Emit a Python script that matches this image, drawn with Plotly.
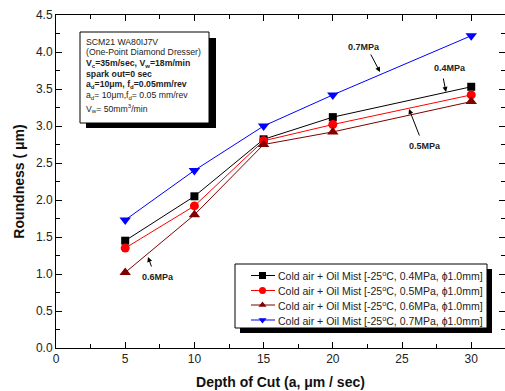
import plotly.graph_objects as go

depth = [5, 10, 15, 20, 30]
r04 = [1.45, 2.05, 2.82, 3.12, 3.53]
r05 = [1.35, 1.92, 2.80, 3.02, 3.42]
r06 = [1.02, 1.80, 2.75, 2.92, 3.33]
r07 = [1.73, 2.40, 3.00, 3.42, 4.22]

names = ["Cold air + Oil Mist [-25<sup>o</sup>C, 0.4MPa, ϕ1.0mm]",
         "Cold air + Oil Mist [-25<sup>o</sup>C, 0.5MPa, ϕ1.0mm]",
         "Cold air + Oil Mist [-25<sup>o</sup>C, 0.6MPa, ϕ1.0mm]",
         "Cold air + Oil Mist [-25<sup>o</sup>C, 0.7MPa, ϕ1.0mm]"]
series = [r04, r05, r06, r07]
colors = ["#000000", "#ff0000", "#800000", "#0000ff"]
symbols = ["square", "circle", "triangle-up", "triangle-down"]
msizes = [8, 9, 10, 10]

W, H = 505, 391
L, R, T, B = 56, 0, 15, 43
FONT = "Arial, Liberation Sans, sans-serif"

def px(x):
    return (x - L) / (W - L - R)

def py(y):
    return (H - B - y) / (H - T - B)

fig = go.Figure()
for n, s, c, m, ms in zip(names, series, colors, symbols, msizes):
    fig.add_trace(go.Scatter(x=depth, y=s, name=n, mode="lines+markers",
                             line=dict(color=c, width=1), showlegend=False,
                             marker=dict(color=c, symbol=m, size=ms)))

# text box with shadow
fig.add_shape(type="rect", xref="paper", yref="paper", x0=px(86), x1=px(216), y0=py(128), y1=py(38),
              fillcolor="black", line=dict(width=0), layer="below")
fig.add_shape(type="rect", xref="paper", yref="paper", x0=px(80), x1=px(209), y0=py(123), y1=py(32),
              fillcolor="white", line=dict(color="black", width=1), layer="below")
# legend box with shadow
fig.add_shape(type="rect", xref="paper", yref="paper", x0=px(240), x1=px(492), y0=py(333), y1=py(269),
              fillcolor="black", line=dict(width=0), layer="below")
fig.add_shape(type="rect", xref="paper", yref="paper", x0=px(235), x1=px(487), y0=py(328), y1=py(264),
              fillcolor="white", line=dict(color="black", width=1), layer="below")

# legend entries drawn on a pixel-scaled overlay axis
rows_y = [275.5, 290.5, 305, 320]
for n, c, m, ry in zip(names, colors, symbols, rows_y):
    fig.add_trace(go.Scatter(x=[251, 275], y=[ry, ry], mode="lines", xaxis="x2", yaxis="y2",
                             line=dict(color=c, width=1), showlegend=False, hoverinfo="skip"))
    fig.add_trace(go.Scatter(x=[262.5], y=[ry], mode="markers", xaxis="x2", yaxis="y2",
                             marker=dict(color=c, symbol=m, size=7), showlegend=False, hoverinfo="skip"))
    fig.add_annotation(text=n, xref="paper", yref="paper", x=px(276), y=py(ry),
                       xanchor="left", yanchor="middle", showarrow=False,
                       font=dict(family=FONT, size=10.5, color="#222"))

box_lines = [
    ("SCM21 WA80IJ7V", 42),
    ("(One-Point Diamond Dresser)", 52.5),
    ("<b>V<sub>c</sub>=35m/sec, V<sub>w</sub>=18m/min</b>", 63.5),
    ("<b>spark out=0 sec</b>", 74),
    ("<b>a<sub>d</sub>=10μm, f<sub>d</sub>=0.05mm/rev</b>", 84.5),
    ("a<sub>d</sub>= 10μm,f<sub>d</sub>= 0.05 mm/rev", 96),
    ("V<sub>w</sub>= 50mm<sup>3</sup>/min", 108),
]
for t, yy in box_lines:
    fig.add_annotation(text=t, xref="paper", yref="paper", x=px(84), y=py(yy),
                       xanchor="left", yanchor="middle", showarrow=False,
                       font=dict(family=FONT, size=8.7, color="#222"))

# pressure labels with arrows
labels = [
    ("0.7MPa", 364, 47, 380, 72, -10, -19),
    ("0.4MPa", 450, 68, 446, 92, -3, -15),
    ("0.5MPa", 425, 146, 409, 109, 11, 28),
    ("0.6MPa", 158, 277, 148, 257, 4, 11),
]
for t, tx, ty, ax_, ay_, dx, dy in labels:
    fig.add_annotation(text="<b>%s</b>" % t, xref="paper", yref="paper", x=px(tx), y=py(ty),
                       xanchor="center", yanchor="middle",
                       showarrow=False, font=dict(family=FONT, size=9, color="#222"))
    fig.add_annotation(text="", xref="paper", yref="paper", x=px(ax_), y=py(ay_),
                       ax=dx, ay=dy, showarrow=True, arrowhead=2, arrowsize=1,
                       arrowwidth=1, arrowcolor="black")

axis_common = dict(showgrid=False, zeroline=False, showline=True, linecolor="black", linewidth=1,
                   ticks="inside", ticklen=6, tickcolor="black", mirror="allticks",
                   tickfont=dict(family=FONT, size=12, color="#222"))

fig.update_layout(
    width=W, height=H, margin=dict(l=L, r=R, t=T, b=B),
    plot_bgcolor="white", paper_bgcolor="white",
    font=dict(family=FONT, color="#222"),
    xaxis=dict(range=[0, 32.44], tickvals=[0, 5, 10, 15, 20, 25, 30],
               minor=dict(ticks="inside", ticklen=4, dtick=2.5, tick0=0, tickcolor="black"),
               title=dict(text="<b>Depth of Cut (a, μm / sec)</b>", font=dict(family=FONT, size=14, color="#111"), standoff=11),
               **axis_common),
    yaxis=dict(range=[0, 4.5], dtick=0.5, tickformat=".1f",
               minor=dict(ticks="inside", ticklen=4, dtick=0.25, tick0=0, tickcolor="black"),
               title=dict(text="<b>Roundness ( μm)</b>", font=dict(family=FONT, size=14, color="#111"), standoff=8),
               **axis_common),
    xaxis2=dict(overlaying="x", range=[L, W - R], visible=False, fixedrange=True),
    yaxis2=dict(overlaying="y", range=[H - B, T], visible=False, fixedrange=True),
    showlegend=False,
)

fig.write_html("out.html")
